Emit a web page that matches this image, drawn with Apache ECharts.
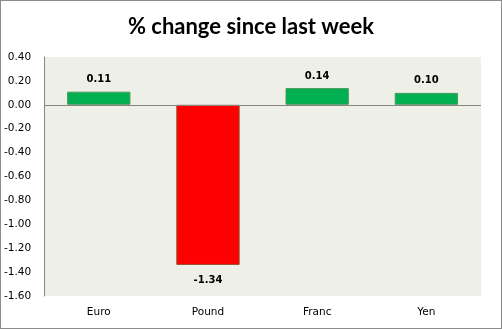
<!DOCTYPE html>
<html><head><meta charset="utf-8">
<script src="https://cdn.jsdelivr.net/npm/echarts@6/dist/echarts.min.js"></script>
<style>html,body{margin:0;padding:0;background:#fff}#c{width:502px;height:329px;box-sizing:border-box;border:1px solid #8c8c8c}</style>
</head><body><div id="c"></div>
<script>
const categories = ['Euro', 'Pound', 'Franc', 'Yen'];
const values = [0.11, -1.34, 0.14, 0.10];
const yTicks = { min: -1.6, max: 0.4, interval: 0.2 };
const titleText = '% change since last week';

const chart = echarts.init(document.getElementById('c'));
chart.setOption({
  animation: false,
  title: { text: titleText, left: 'center', top: 10,
    textStyle: { fontFamily: 'Lato', fontWeight: 'bold', fontSize: 22, color: '#000' } },
  grid: { left: 42, right: 20, top: 56, bottom: 32, backgroundColor: '#EEF0E8', show: true, borderWidth: 0 },
  xAxis: { type: 'category', data: categories, position: 'bottom',
    axisLine: { show: false }, axisTick: { show: false },
    axisLabel: { fontFamily: 'DejaVu Sans', fontSize: 10.5, color: '#000', margin: 11, interval: 0 } },
  yAxis: { type: 'value', min: yTicks.min, max: yTicks.max, interval: yTicks.interval,
    splitLine: { show: false }, axisTick: { show: false },
    axisLine: { show: true, lineStyle: { color: '#868686' } },
    axisLabel: { fontFamily: 'DejaVu Sans', fontSize: 10.5, color: '#000', margin: 13,
      formatter: v => v.toFixed(2) } },
  series: [{
    type: 'bar', barWidth: '58%',
    data: values.map(v => ({ value: v,
      itemStyle: v < 0 ? { color: '#FF0000', borderColor: '#984D2E', borderWidth: 1 }
                       : { color: '#00B050', borderColor: '#4E9A5E', borderWidth: 1 },
      label: { position: v < 0 ? 'bottom' : 'top', distance: v < 0 ? 10 : 7 } })),
    label: { show: true, fontFamily: 'DejaVu Sans', fontWeight: 'bold', fontSize: 10, color: '#000',
      formatter: p => p.value.toFixed(2) },
    markLine: { silent: true, symbol: 'none', label: { show: false },
      lineStyle: { color: '#868686', type: 'solid', width: 1 }, data: [{ yAxis: 0 }] }
  }]
});
</script></body></html>
